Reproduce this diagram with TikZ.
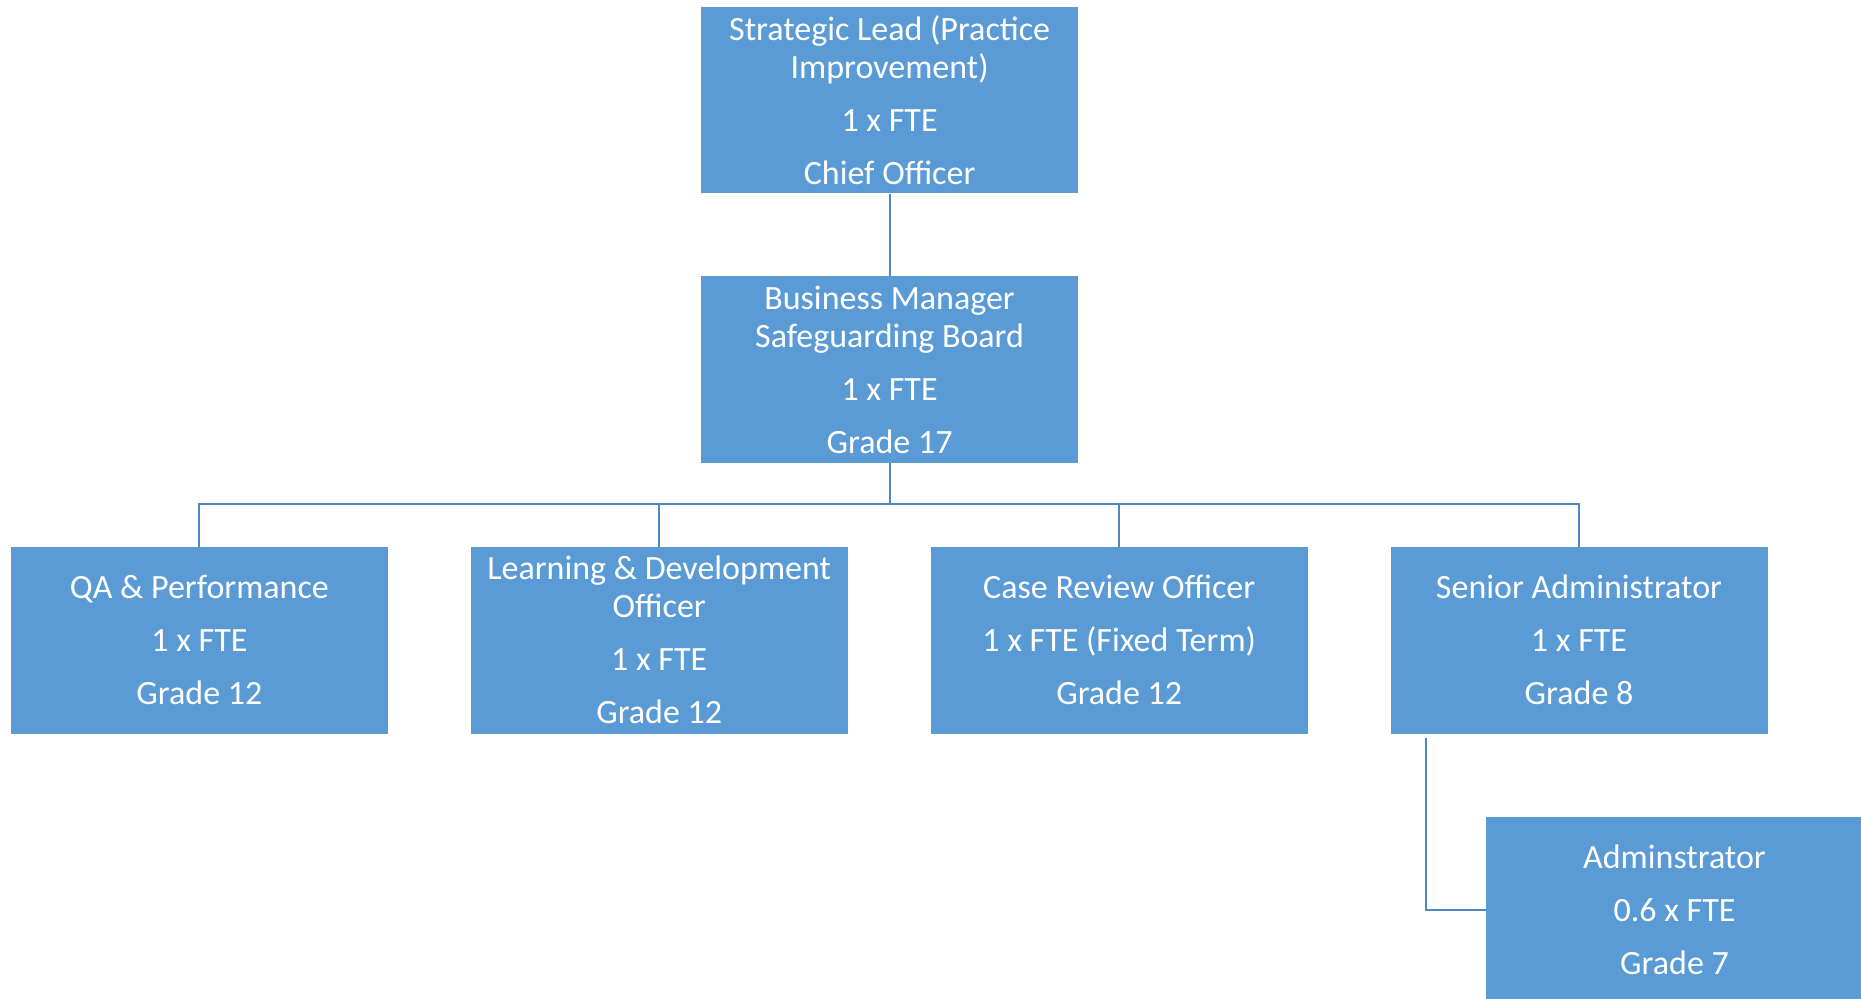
\documentclass[tikz,border=0pt]{standalone}
\usepackage{fontspec}
\setmainfont{Carlito}
\definecolor{boxblue}{HTML}{5B9BD5}
\definecolor{lineblue}{HTML}{4F87C2}
\begin{document}
\begin{tikzpicture}[x=0.5pt,y=-0.5pt,
  orgbox/.style={fill=boxblue, draw=none, text=white, align=center,
    minimum width=188.5pt, minimum height=93.25pt, inner sep=0pt,
    font=\fontsize{17}{19}\selectfont},
  link/.style={draw=lineblue, line width=1pt}]
\clip (0,0) rectangle (1861,999);
\fill[white] (0,0) rectangle (1861,999);
\node[orgbox] (sl) at (889.6,100.25) {Strategic Lead (Practice\\Improvement)\\[7.5pt]1 x FTE\\[7.5pt]Chief Officer};
\node[orgbox] (bm) at (889.6,369.75) {Business Manager\\Safeguarding Board\\[7.5pt]1 x FTE\\[7.5pt]Grade 17};
\node[orgbox] (qa) at (199.4,640.25) {QA \& Performance\\[7.5pt]1 x FTE\\[7.5pt]Grade 12};
\node[orgbox] (ld) at (659.2,640.25) {Learning \& Development\\Officer\\[7.5pt]1 x FTE\\[7.5pt]Grade 12};
\node[orgbox] (cr) at (1119.2,640.25) {Case Review Officer\\[7.5pt]1 x FTE (Fixed Term)\\[7.5pt]Grade 12};
\node[orgbox] (sa) at (1579,640.25) {Senior Administrator\\[7.5pt]1 x FTE\\[7.5pt]Grade 8};
\node[orgbox] (adm) at (1674.5,910) {Adminstrator\\[7.5pt]0.6 x FTE\\[7.5pt]Grade 7};
\coordinate (bus) at (889.6,504.4);
\draw[link] (sl.south) -- (bm.north);
\draw[link] (bm.south) -- (bus);
\draw[link] (qa.north) -- (qa.north |- bus) -- (sa.north |- bus) -- (sa.north);
\draw[link] (ld.north) -- (ld.north |- bus);
\draw[link] (cr.north) -- (cr.north |- bus);
\draw[link] (sa.south west) ++(36,4) |- (adm.west);
\end{tikzpicture}
\end{document}
